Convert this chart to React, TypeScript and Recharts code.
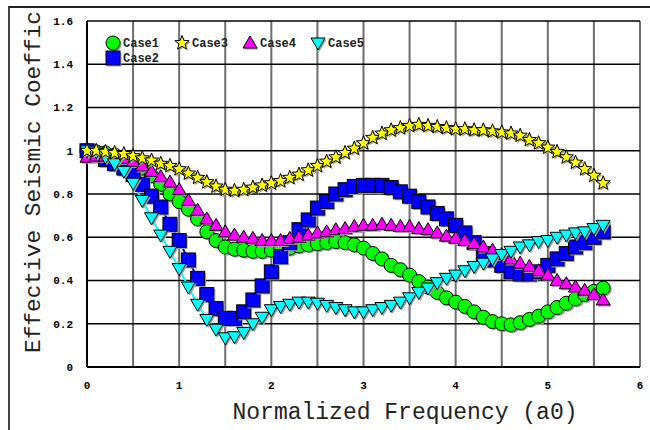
import React from 'react';
import { LineChart, Line, XAxis, YAxis, CartesianGrid } from 'recharts';

const freq = [0, 0.1, 0.2, 0.3, 0.4, 0.5, 0.6, 0.7, 0.8, 0.9, 1.0, 1.1, 1.2, 1.3, 1.4, 1.5, 1.6, 1.7, 1.8, 1.9, 2.0, 2.1, 2.2, 2.3, 2.4, 2.5, 2.6, 2.7, 2.8, 2.9, 3.0, 3.1, 3.2, 3.3, 3.4, 3.5, 3.6, 3.7, 3.8, 3.9, 4.0, 4.1, 4.2, 4.3, 4.4, 4.5, 4.6, 4.7, 4.8, 4.9, 5.0, 5.1, 5.2, 5.3, 5.4, 5.5, 5.6];

const case1 = [1.0, 0.995, 0.99, 0.98, 0.965, 0.945, 0.92, 0.885, 0.845, 0.8, 0.765, 0.73, 0.685, 0.625, 0.585, 0.555, 0.545, 0.54, 0.535, 0.535, 0.54, 0.545, 0.55, 0.56, 0.565, 0.57, 0.575, 0.58, 0.575, 0.565, 0.55, 0.525, 0.5, 0.47, 0.45, 0.425, 0.395, 0.37, 0.345, 0.32, 0.3, 0.28, 0.255, 0.23, 0.21, 0.2, 0.195, 0.205, 0.22, 0.235, 0.255, 0.275, 0.295, 0.315, 0.335, 0.35, 0.365];

const case2 = [1.0, 0.98, 0.96, 0.94, 0.92, 0.89, 0.845, 0.79, 0.74, 0.66, 0.585, 0.495, 0.41, 0.335, 0.27, 0.225, 0.225, 0.255, 0.31, 0.375, 0.44, 0.51, 0.575, 0.635, 0.68, 0.735, 0.765, 0.8, 0.82, 0.835, 0.84, 0.84, 0.84, 0.83, 0.81, 0.79, 0.765, 0.74, 0.71, 0.685, 0.655, 0.62, 0.575, 0.525, 0.495, 0.47, 0.44, 0.43, 0.43, 0.44, 0.47, 0.5, 0.525, 0.555, 0.575, 0.6, 0.625];

const case3 = [1.0, 1.0, 0.995, 0.99, 0.985, 0.975, 0.965, 0.955, 0.94, 0.93, 0.915, 0.895, 0.875, 0.855, 0.835, 0.82, 0.815, 0.82, 0.83, 0.84, 0.85, 0.86, 0.875, 0.89, 0.91, 0.93, 0.95, 0.97, 0.99, 1.01, 1.035, 1.06, 1.08, 1.095, 1.105, 1.115, 1.12, 1.115, 1.11, 1.105, 1.1, 1.1, 1.095, 1.095, 1.09, 1.085, 1.08, 1.07, 1.05, 1.035, 1.015, 0.995, 0.97, 0.945, 0.915, 0.885, 0.85];

const case4 = [0.97, 0.975, 0.975, 0.97, 0.965, 0.95, 0.93, 0.905, 0.88, 0.855, 0.82, 0.77, 0.725, 0.685, 0.655, 0.625, 0.61, 0.6, 0.595, 0.585, 0.585, 0.585, 0.595, 0.6, 0.61, 0.62, 0.625, 0.635, 0.64, 0.65, 0.655, 0.655, 0.66, 0.655, 0.65, 0.65, 0.64, 0.635, 0.62, 0.605, 0.595, 0.585, 0.57, 0.555, 0.54, 0.52, 0.5, 0.48, 0.465, 0.445, 0.425, 0.4, 0.385, 0.37, 0.355, 0.335, 0.31];

const case5 = [1.0, 0.995, 0.97, 0.94, 0.905, 0.85, 0.77, 0.69, 0.61, 0.535, 0.455, 0.37, 0.29, 0.22, 0.175, 0.135, 0.14, 0.16, 0.2, 0.23, 0.265, 0.28, 0.29, 0.3, 0.3, 0.295, 0.285, 0.275, 0.265, 0.255, 0.255, 0.265, 0.275, 0.285, 0.3, 0.32, 0.345, 0.365, 0.39, 0.41, 0.425, 0.445, 0.465, 0.48, 0.5, 0.52, 0.535, 0.555, 0.565, 0.58, 0.585, 0.6, 0.61, 0.62, 0.625, 0.64, 0.655];

const xTicks = [0, 0.5, 1, 1.5, 2, 2.5, 3, 3.5, 4, 4.5, 5, 5.5, 6];
const yTicks = [0, 0.2, 0.4, 0.6, 0.8, 1.0, 1.2, 1.4, 1.6];

const seriesNames = ['Case1', 'Case2', 'Case3', 'Case4', 'Case5'];

const xTitle = 'Normalized Frequency (a0)';
const yTitle = 'Effective Seismic Coeffic';

const data = freq.map((f, i) => ({
  f,
  Case1: case1[i],
  Case2: case2[i],
  Case3: case3[i],
  Case4: case4[i],
  Case5: case5[i],
}));

const MONO = '"Liberation Mono", "Courier New", monospace';
const SH = '#a0a0a0';

type P = { cx: number; cy: number };

const CircleM = ({ cx, cy }: P) => (
  <g>
    <circle cx={cx + 1.5} cy={cy + 1.5} r={7} fill={SH} />
    <circle cx={cx} cy={cy} r={7} fill="#00FF00" stroke="#000" strokeWidth={1} />
  </g>
);

const SquareM = ({ cx, cy }: P) => (
  <g>
    <rect x={cx - 7 + 1.5} y={cy - 7 + 1.5} width={14} height={14} fill={SH} />
    <rect x={cx - 7} y={cy - 7} width={14} height={14} fill="#0000FF" stroke="#000" strokeWidth={1} />
  </g>
);

const starPts = (cx: number, cy: number, ro: number, ri: number) => {
  const pts: string[] = [];
  for (let k = 0; k < 10; k++) {
    const r = k % 2 === 0 ? ro : ri;
    const a = -Math.PI / 2 + (k * Math.PI) / 5;
    pts.push(`${cx + r * Math.cos(a)},${cy + r * Math.sin(a)}`);
  }
  return pts.join(' ');
};

const StarM = ({ cx, cy }: P) => (
  <g>
    <polygon points={starPts(cx + 1.5, cy + 1.5, 7.5, 3.2)} fill={SH} />
    <polygon points={starPts(cx, cy, 7.5, 3.2)} fill="#FFFF00" stroke="#000" strokeWidth={1} />
  </g>
);

const TriUpM = ({ cx, cy }: P) => (
  <g>
    <polygon points={`${cx + 1.5},${cy - 7 + 1.5} ${cx + 7 + 1.5},${cy + 5 + 1.5} ${cx - 7 + 1.5},${cy + 5 + 1.5}`} fill={SH} />
    <polygon points={`${cx},${cy - 7} ${cx + 7},${cy + 5} ${cx - 7},${cy + 5}`} fill="#FF00FF" stroke="#000" strokeWidth={1} />
  </g>
);

const TriDownM = ({ cx, cy }: P) => (
  <g>
    <polygon points={`${cx - 7 + 1.5},${cy - 5 + 1.5} ${cx + 7 + 1.5},${cy - 5 + 1.5} ${cx + 1.5},${cy + 7 + 1.5}`} fill={SH} />
    <polygon points={`${cx - 7},${cy - 5} ${cx + 7},${cy - 5} ${cx},${cy + 7}`} fill="#00FFFF" stroke="#000" strokeWidth={1} />
  </g>
);

const shapes: Record<string, (p: P) => React.ReactElement> = {
  Case1: CircleM,
  Case2: SquareM,
  Case3: StarM,
  Case4: TriUpM,
  Case5: TriDownM,
};

const colors: Record<string, string> = {
  Case1: '#00FF00',
  Case2: '#0000FF',
  Case3: '#FFFF00',
  Case4: '#FF00FF',
  Case5: '#00FFFF',
};

const drawOrder = ['Case1', 'Case2', 'Case4', 'Case5', 'Case3'];

const makeDot = (name: string) => (props: any) => {
  const S = shapes[name];
  if (props.cx == null || props.cy == null) return <g key={`${name}-${props.index}`} />;
  return <S key={`${name}-${props.index}`} cx={props.cx} cy={props.cy} />;
};

const fmtY = (v: number) => String(Number(v.toFixed(1)));
const fmtX = (v: number) => (Number.isInteger(v) ? String(v) : '');

const legendPos: Record<string, { x: number; y: number }> = {
  Case1: { x: 113, y: 43 },
  Case2: { x: 113, y: 58 },
  Case3: { x: 182, y: 43 },
  Case4: { x: 250, y: 43 },
  Case5: { x: 318, y: 43 },
};

export default function App() {
  return (
    <div style={{ position: 'absolute', left: 0, top: 0, width: 650, height: 430, overflow: 'hidden', background: '#fff' }}>
      <div
        style={{
          position: 'absolute',
          left: 8,
          top: 6,
          width: 700,
          height: 500,
          borderTop: '2px solid #222',
          borderLeft: '2px solid #444',
          overflow: 'hidden',
        }}
      >
        <div style={{ position: 'absolute', left: -10, top: -8 }}>
          <LineChart width={650} height={430} data={data} margin={{ top: 21, right: 10, bottom: 33, left: 27 }}>
            <CartesianGrid horizontal={false} vertical stroke="#6e6e6e" strokeWidth={2} />
            <CartesianGrid horizontal vertical={false} stroke="#000" strokeWidth={1.3} />
            <XAxis
              dataKey="f"
              type="number"
              domain={[0, 6]}
              ticks={xTicks}
              tickFormatter={fmtX}
              interval={0}
              tickLine={false}
              tickMargin={8}
              axisLine={{ stroke: '#000', strokeWidth: 2 }}
              tick={{ fill: '#000', fontFamily: MONO, fontWeight: 'bold', fontSize: 11 }}
              height={30}
              label={{
                content: () => (
                  <text x={405} y={419} textAnchor="middle" fontFamily={MONO} fontSize={23} fill="#222">
                    {xTitle}
                  </text>
                ),
              }}
            />
            <YAxis
              type="number"
              domain={[0, 1.6]}
              ticks={yTicks}
              tickFormatter={fmtY}
              interval={0}
              tickLine={false}
              tickMargin={8}
              width={60}
              axisLine={{ stroke: '#000', strokeWidth: 2 }}
              tick={{ fill: '#000', fontFamily: MONO, fontWeight: 'bold', fontSize: 11 }}
              label={{
                content: () => (
                  <text
                    x={40}
                    y={353}
                    transform="rotate(-90 40 353)"
                    textAnchor="start"
                    fontFamily={MONO}
                    fontSize={22.8}
                    fill="#222"
                  >
                    {yTitle}
                  </text>
                ),
              }}
            />
            {drawOrder.map((name) => (
              <Line
                key={name}
                type="linear"
                dataKey={name}
                stroke={colors[name]}
                strokeWidth={2}
                dot={makeDot(name)}
                activeDot={false}
                isAnimationActive={false}
              />
            ))}
          </LineChart>
        </div>
      </div>
      <svg width={650} height={430} style={{ position: 'absolute', left: 0, top: 0, pointerEvents: 'none' }}>
        {seriesNames.map((name) => {
          const S = shapes[name];
          const p = legendPos[name];
          return (
            <g key={name}>
              <S cx={p.x} cy={p.y} />
              <text x={p.x + 10} y={p.y + 4} fontFamily={MONO} fontWeight="bold" fontSize={12} fill="#222">
                {name}
              </text>
            </g>
          );
        })}
      </svg>
    </div>
  );
}
